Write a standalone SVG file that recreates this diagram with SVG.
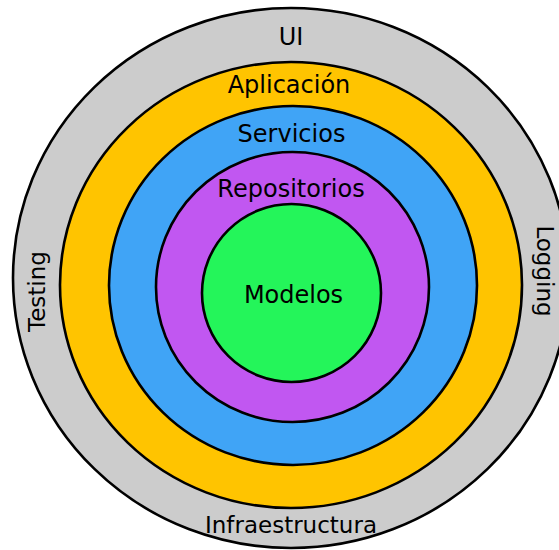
<svg xmlns="http://www.w3.org/2000/svg" width="559" height="550" viewBox="0 0 559 550">
  <style>
    .ring { stroke: #000; stroke-width: 2.6; }
    .lbl { font-family: "DejaVu Sans", Verdana, sans-serif; font-size: 24px; fill: #000; text-anchor: middle; }
    .side { font-size: 23px; }
  </style>
  <rect x="0" y="0" width="559" height="550" fill="#ffffff"/>
  <g id="infraestructura">
    <ellipse class="ring" cx="291" cy="278" rx="278" ry="270" fill="#cccccc"/>
    <text class="lbl" x="291" y="45">UI</text>
    <text class="lbl side" x="291" y="533">Infraestructura</text>
    <text class="lbl side" transform="translate(45 291.5) rotate(-90)">Testing</text>
    <text class="lbl side" transform="translate(537 271) rotate(90)">Logging</text>
  </g>
  <g id="aplicacion">
    <ellipse class="ring" cx="291" cy="285" rx="231" ry="223" fill="#ffc400"/>
    <text class="lbl" x="289" y="93">Aplicación</text>
  </g>
  <g id="servicios">
    <ellipse class="ring" cx="293" cy="285.5" rx="184" ry="179.5" fill="#40a4f6"/>
    <text class="lbl" x="291.5" y="142">Servicios</text>
  </g>
  <g id="repositorios">
    <ellipse class="ring" cx="292.5" cy="287" rx="136.5" ry="135" fill="#c157f1"/>
    <text class="lbl" x="291" y="197">Repositorios</text>
  </g>
  <g id="modelos">
    <ellipse class="ring" cx="291.5" cy="293" rx="89.5" ry="89" fill="#24f55a"/>
    <text class="lbl" x="293.5" y="303">Modelos</text>
  </g>
</svg>
